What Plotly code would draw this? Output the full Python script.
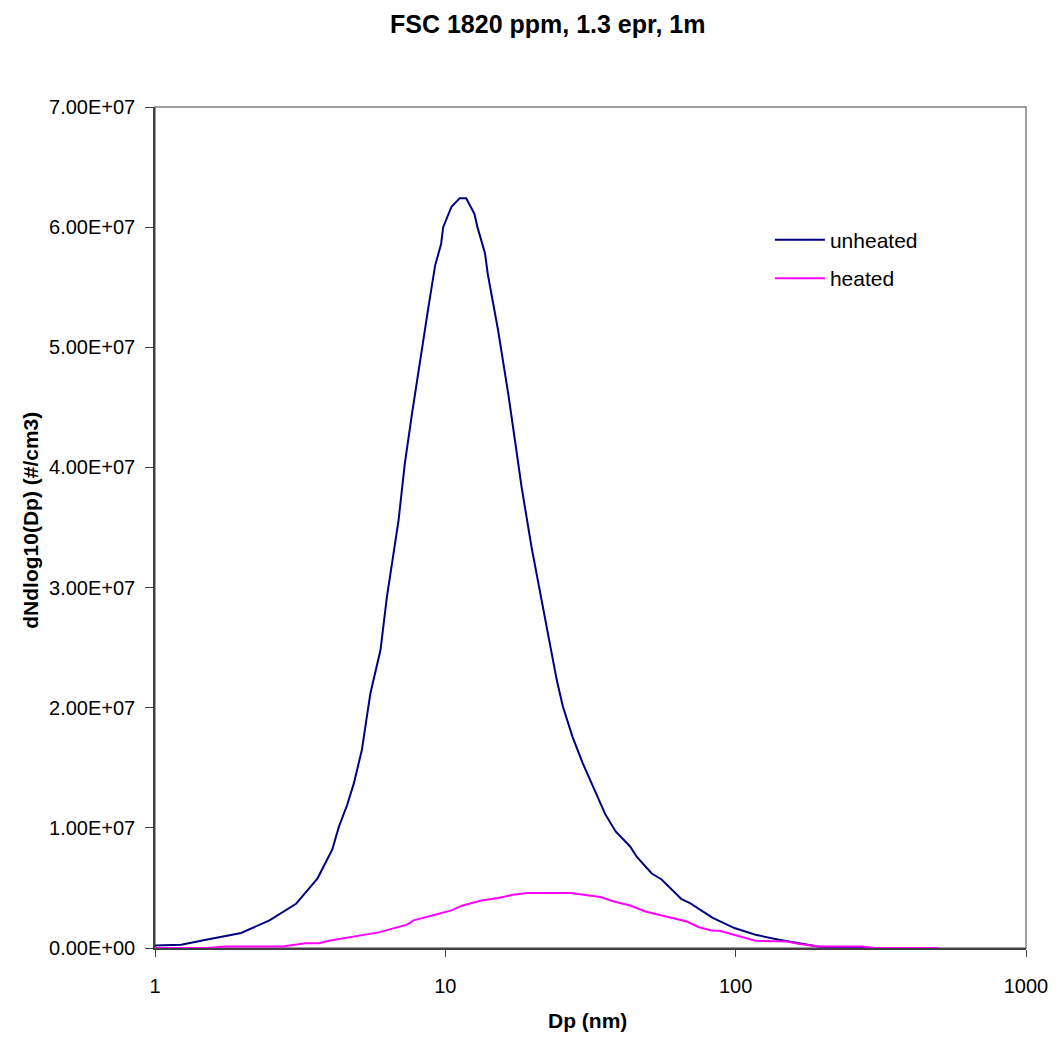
import plotly.graph_objects as go

# Data
unheated_dp = [1.0, 1.23, 1.5, 1.98, 2.48, 3.06, 3.63, 3.87, 4.08, 4.30, 4.59, 4.84, 5.16, 5.37, 5.52,
               5.98, 6.29, 6.90, 7.25, 7.68, 7.98, 8.29, 8.74, 9.22, 9.67, 9.83, 10.5, 11.2, 11.8,
               12.6, 12.9, 13.7, 14.0, 15.2, 16.5, 17.5, 18.3, 19.8, 21.9, 23.1, 24.2, 25.4, 27.4,
               29.7, 32.9, 35.6, 38.6, 43.3, 45.6, 51.4, 55.6, 65.1, 69.6, 83.4, 99, 117, 141, 166,
               192, 220, 272, 300]
unheated_val = [2.0e5, 2.7e5, 6.9e5, 1.25e6, 2.3e6, 3.68e6, 5.8e6, 7.07e6, 8.2e6, 1.01e7, 1.19e7, 1.37e7,
                1.65e7, 1.93e7, 2.12e7, 2.48e7, 2.92e7, 3.56e7, 4.03e7, 4.45e7, 4.72e7, 4.99e7, 5.33e7,
                5.68e7, 5.86e7, 6.0e7, 6.17e7, 6.24e7, 6.24e7, 6.11e7, 6.0e7, 5.78e7, 5.61e7, 5.14e7,
                4.6e7, 4.17e7, 3.84e7, 3.34e7, 2.78e7, 2.48e7, 2.23e7, 2.01e7, 1.76e7, 1.54e7, 1.29e7,
                1.11e7, 9.7e6, 8.45e6, 7.6e6, 6.2e6, 5.7e6, 4.07e6, 3.74e6, 2.5e6, 1.66e6, 1.1e6, 6.9e5,
                3.6e5, 1.3e5, 5e4, 2e4, 0]

heated_dp = [1.0, 1.5, 1.76, 2.75, 3.3, 3.67, 3.97, 4.53, 5.16, 5.89, 7.38, 7.78, 9.22, 10.5, 11.4,
             13.3, 15.2, 17.1, 19.2, 22.5, 27.0, 34.2, 38.1, 43.3, 48.9, 67.9, 74.4, 82.4, 88, 117,
             149, 166, 194, 272, 300, 500]
heated_val = [0, 0, 1.3e5, 1.3e5, 4e5, 4e5, 6e5, 8.3e5, 1.1e6, 1.3e6, 1.94e6, 2.3e6, 2.77e6, 3.13e6,
              3.52e6, 3.96e6, 4.16e6, 4.43e6, 4.57e6, 4.57e6, 4.57e6, 4.24e6, 3.87e6, 3.54e6, 3.04e6,
              2.2e6, 1.75e6, 1.46e6, 1.44e6, 6e5, 5.5e5, 3.3e5, 1.3e5, 1.3e5, 0, 0]

y_ticks = [0, 1e7, 2e7, 3e7, 4e7, 5e7, 6e7, 7e7]
x_ticks = [1, 10, 100, 1000]

title_text = "FSC 1820 ppm, 1.3 epr, 1m"
x_title = "Dp (nm)"
y_title = "dNdlog10(Dp) (#/cm3)"

FONT = "Arial, Liberation Sans, sans-serif"

fig = go.Figure()
fig.add_trace(go.Scatter(x=unheated_dp, y=unheated_val, mode="lines", name="unheated",
                         legendgroup="a", line=dict(color="#000080", width=2)))
fig.add_trace(go.Scatter(x=heated_dp, y=heated_val, mode="lines", name="heated",
                         legendgroup="b", line=dict(color="#FF00FF", width=2)))

fig.update_layout(
    width=1052, height=1030,
    margin=dict(l=147, r=29, t=99, b=90),
    paper_bgcolor="white", plot_bgcolor="white",
    font=dict(family=FONT, size=20, color="black"),
    showlegend=True,
    legend=dict(x=0.706, y=0.866, xanchor="left", yanchor="top",
                bgcolor="rgba(0,0,0,0)", font=dict(size=21, family=FONT),
                tracegroupgap=8, itemwidth=50),
    xaxis=dict(type="log", range=[0, 3], tickvals=x_ticks, ticktext=[str(v) for v in x_ticks],
               showgrid=False, zeroline=False, showline=True, linecolor="#404040", linewidth=1.5,
               ticks="outside", ticklen=7, tickcolor="#404040", tickfont=dict(size=20),
               ticklabelstandoff=12),
    yaxis=dict(range=[0, 7e7], tickvals=y_ticks, ticktext=[f"{v:.2E}" for v in y_ticks],
               showgrid=False, zeroline=False, showline=True, linecolor="#404040", linewidth=1.5,
               ticks="outside", ticklen=8, tickcolor="#404040", tickfont=dict(size=20),
               ticklabelstandoff=6),
    shapes=[dict(type="rect", xref="paper", yref="paper", x0=0, x1=1, y0=0, y1=1,
                 line=dict(color="#808080", width=1.5), layer="below")],
    annotations=[
        dict(text=f"<b>{title_text}</b>", xref="paper", yref="paper", x=0.451, y=1.0, yshift=83,
             showarrow=False, xanchor="center", yanchor="middle", font=dict(size=25)),
        dict(text=f"<b>{x_title}</b>", xref="paper", yref="paper", x=0.497, y=0, yshift=-72,
             showarrow=False, xanchor="center", yanchor="middle", font=dict(size=21)),
        dict(text=f"<b>{y_title}</b>", xref="paper", yref="paper", x=0, xshift=-124, y=0.508,
             showarrow=False, xanchor="center", yanchor="middle", textangle=-90, font=dict(size=21)),
    ],
)

fig.write_html("out.html")
